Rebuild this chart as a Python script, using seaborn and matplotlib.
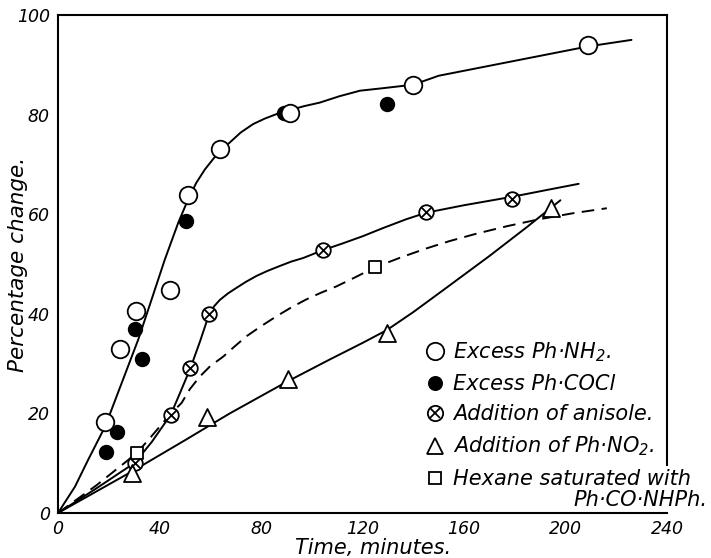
import numpy as np
import pandas as pd
import matplotlib
matplotlib.use("Agg")
import matplotlib.pyplot as plt
from matplotlib.lines import Line2D
import seaborn as sns

# ---------------- data ----------------
nh2_x = [18.5, 24.4, 30.7, 44.1, 51.2, 64.0, 91.3, 139.9, 208.9]
nh2_y = [18.2, 32.9, 40.5, 44.7, 63.8, 73.0, 80.4, 85.9, 94.0]

cocl_x = [18.9, 23.3, 30.3, 33.2, 50.3, 89.0, 129.7]
cocl_y = [12.2, 16.2, 37.0, 31.0, 58.6, 80.4, 82.2]

anis_x = [30.3, 44.4, 52.2, 59.6, 104.5, 145.1, 179.0]
anis_y = [10.1, 19.7, 29.1, 40.0, 52.9, 60.4, 63.1]

no2_x = [29.0, 58.8, 90.8, 129.7, 194.4]
no2_y = [8.1, 19.2, 27.0, 36.2, 61.3]

hex_x = [31.0, 125.0]
hex_y = [12.0, 49.4]

# fitted curves
nh2_curve_x = [0, 6.7, 11.9, 18.6, 25.1, 31.6, 36.9, 42.1, 47.4, 51.3, 54.5, 57.9,
               61.5, 64.4, 67.7, 72, 76.9, 81.5, 86.1, 91.3, 97, 103.1, 111, 119,
               128, 140, 150, 170, 190, 209, 226]
nh2_curve_y = [0, 5.3, 10.7, 17.4, 26.1, 34.8, 42.9, 50.9, 58.3, 63.0, 66.3, 69.0,
               71.3, 72.9, 74.4, 76.4, 78.1, 79.2, 80.1, 80.9, 81.7, 82.4, 83.7, 84.8,
               85.3, 86.0, 87.8, 89.8, 91.8, 93.7, 95.0]

anis_curve_x = [0, 15, 30.3, 37, 44.4, 48, 52.2, 56, 59.6, 61.5, 63.8, 67, 70.3, 74,
                78.2, 82.5, 87.4, 92, 96.6, 104.5, 112, 120.2, 128, 137.3, 145.1,
                160, 179, 192, 205.2]
anis_curve_y = [0, 4.9, 10.1, 14.3, 19.7, 24.0, 29.1, 34.5, 40.0, 41.5, 42.8, 44.1,
                45.2, 46.4, 47.6, 48.6, 49.6, 50.5, 51.2, 52.8, 54.1, 55.6, 57.2, 59.0,
                60.3, 61.8, 63.5, 64.8, 66.1]

hex_curve_x = [0, 15, 31, 37, 44, 48.7, 52, 55.9, 60, 65.1, 69.5, 74.3, 80, 86.1, 92,
               97.9, 103.5, 109.7, 117, 124.8, 135, 145, 154.3, 165, 177, 189.8, 203,
               216.3]
hex_curve_y = [0, 5.5, 12.0, 15.5, 19.7, 22.1, 24.9, 27.4, 29.5, 31.4, 33.4, 35.5,
               37.5, 39.5, 41.3, 42.9, 44.2, 45.5, 47.3, 49.3, 51.3, 53.1, 54.6, 56.1,
               57.6, 59.0, 60.2, 61.2]

no2_curve_x = [0, 29, 50, 67.7, 90, 107, 120.2, 129.5, 139.9, 153, 170, 185, 198]
no2_curve_y = [0, 8.3, 14.6, 20.0, 26.3, 30.8, 34.2, 36.7, 40.3, 45.2, 51.6, 57.5, 62.8]

x_ticks = [0, 40, 80, 120, 160, 200, 240]
y_ticks = [0, 20, 40, 60, 80, 100]

labels = ["Excess Ph·NH$_2$.",
          "Excess Ph·COCl",
          "Addition of anisole.",
          "Addition of Ph·NO$_2$.",
          "Hexane saturated with"]
label_cont = "Ph·CO·NHPh."

# ---------------- style ----------------
sns.set_style("white")
plt.rcParams["font.family"] = ["DejaVu Sans"]
plt.rcParams["font.style"] = "italic"
plt.rcParams["mathtext.fontset"] = "dejavusans"
plt.rcParams["mathtext.default"] = "it"
plt.rcParams["text.color"] = "black"
plt.rcParams["axes.labelcolor"] = "black"
plt.rcParams["xtick.color"] = "black"
plt.rcParams["ytick.color"] = "black"

fig = plt.figure(figsize=(7.11, 5.58), dpi=100)
ax = fig.add_axes([58 / 711, 45 / 558, 609 / 711, 498 / 558])

lw = 1.4
sns.lineplot(x=nh2_curve_x, y=nh2_curve_y, ax=ax, color="black", lw=lw, zorder=2)
sns.lineplot(x=anis_curve_x, y=anis_curve_y, ax=ax, color="black", lw=lw, zorder=2)
sns.lineplot(x=no2_curve_x, y=no2_curve_y, ax=ax, color="black", lw=lw, zorder=2)
sns.lineplot(x=hex_curve_x, y=hex_curve_y, ax=ax, color="black", lw=lw, zorder=2,
             linestyle=(0, (6.5, 3.8)))

mew = 1.3
sns.scatterplot(x=cocl_x, y=cocl_y, ax=ax, marker="o", s=95, color="black",
                edgecolor="black", linewidth=mew, zorder=3)
sns.scatterplot(x=nh2_x, y=nh2_y, ax=ax, marker="o", s=160, color="white",
                edgecolor="black", linewidth=mew, zorder=4)
sns.scatterplot(x=anis_x, y=anis_y, ax=ax, marker="o", s=110, color="white",
                edgecolor="black", linewidth=mew, zorder=4)
sns.scatterplot(x=anis_x, y=anis_y, ax=ax, marker="x", s=55, color="black",
                linewidth=mew, zorder=5)
sns.scatterplot(x=no2_x, y=no2_y, ax=ax, marker="^", s=150, color="white",
                edgecolor="black", linewidth=mew, zorder=4)
sns.scatterplot(x=hex_x, y=hex_y, ax=ax, marker="s", s=65, color="white",
                edgecolor="black", linewidth=mew, zorder=4)

ax.set_xlim(0, 240)
ax.set_ylim(0, 100)
ax.set_xticks(x_ticks)
ax.set_yticks(y_ticks)
ax.set_xticklabels([str(t) for t in x_ticks])
ax.set_yticklabels([str(t) for t in y_ticks])
ax.tick_params(direction="in", length=6, width=1.2, labelsize=12.5, colors="black")
ax.tick_params(axis="x", pad=5)
ax.tick_params(axis="y", pad=6)

for side in ["left", "bottom", "top", "right"]:
    ax.spines[side].set_visible(True)
    ax.spines[side].set_color("black")
    ax.spines[side].set_linewidth(1.5)
ax.spines["right"].set_bounds(9.7, 100)

ax.set_xlabel("Time, minutes.", fontsize=15)
ax.set_ylabel("Percentage change.", fontsize=15.5)
ax.xaxis.set_label_coords(0.517, -0.05)
ax.yaxis.set_label_coords(-0.049, 0.5)

# ---------------- legend ----------------
ms_kw = dict(linestyle="none", markeredgecolor="black", markeredgewidth=mew)
h1 = Line2D([], [], marker="o", markersize=12.5, markerfacecolor="white", **ms_kw)
h2 = Line2D([], [], marker="o", markersize=9.5, markerfacecolor="black", **ms_kw)
h3a = Line2D([], [], marker="o", markersize=11, markerfacecolor="white", **ms_kw)
h3b = Line2D([], [], marker="x", markersize=7.5, color="black", **ms_kw)
h4 = Line2D([], [], marker="^", markersize=12, markerfacecolor="white", **ms_kw)
h5 = Line2D([], [], marker="s", markersize=8, markerfacecolor="white", **ms_kw)

leg = ax.legend([h1, h2, (h3a, h3b), h4, h5], labels,
                loc="upper left", bbox_to_anchor=(426 / 711, (558 - 340) / 558),
                bbox_transform=fig.transFigure, frameon=False, fontsize=15,
                handlelength=0.9, handletextpad=0.4, labelspacing=0.5,
                borderpad=0, borderaxespad=0)
for t in leg.get_texts():
    t.set_fontstyle("italic")

fig.text(707 / 711, 1 - 500 / 558, label_cont, ha="right", va="center",
         fontsize=15, fontstyle="italic")

fig.savefig("out.png", dpi=100)
